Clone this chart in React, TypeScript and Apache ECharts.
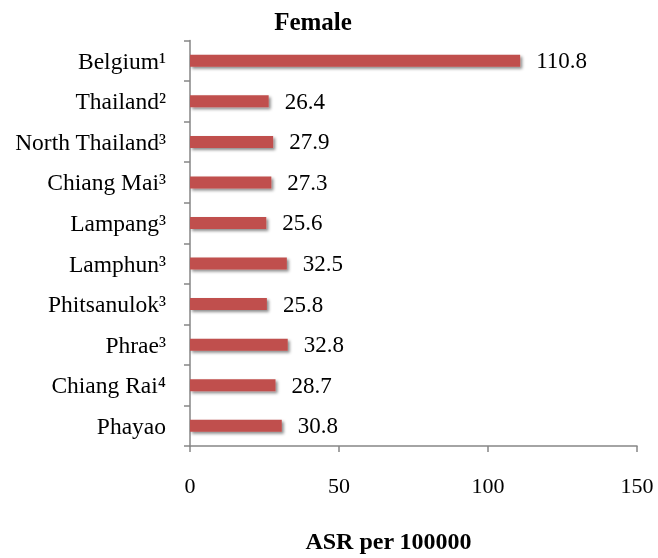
import React, { useEffect, useRef } from "react";
import * as echarts from "echarts";

const categories = [
  "Belgium¹",
  "Thailand²",
  "North Thailand³",
  "Chiang Mai³",
  "Lampang³",
  "Lamphun³",
  "Phitsanulok³",
  "Phrae³",
  "Chiang Rai⁴",
  "Phayao",
];
const values = [110.8, 26.4, 27.9, 27.3, 25.6, 32.5, 25.8, 32.8, 28.7, 30.8];
const xTicks = { min: 0, max: 150, interval: 50 };

const FONT = '"Liberation Serif", "Times New Roman", serif';

export default function App() {
  const ref = useRef<HTMLDivElement>(null);
  useEffect(() => {
    const chart = echarts.init(ref.current!, undefined, { renderer: "svg" });
    chart.setOption({
      animation: false,
      title: {
        text: "Female",
        left: 308,
        top: 4,
        textAlign: "center",
        textStyle: { fontFamily: FONT, fontWeight: "bold", fontSize: 25, color: "#000" },
      },
      grid: { left: 190, right: 21, top: 40.5, bottom: 112, outerBoundsMode: "none" },
      xAxis: {
        type: "value",
        min: xTicks.min,
        max: xTicks.max,
        interval: xTicks.interval,
        name: "ASR per 100000",
        nameLocation: "middle",
        nameGap: 83,
        nameTextStyle: {
          fontFamily: FONT,
          fontWeight: "bold",
          fontSize: 24,
          color: "#000",
          padding: [0, 50, 0, 0],
        },
        axisLine: { show: true, lineStyle: { color: "#868686", width: 1.5 } },
        axisTick: { show: true, length: 6, lineStyle: { color: "#868686", width: 1.5 } },
        axisLabel: { fontFamily: FONT, fontSize: 22, color: "#000", margin: 28 },
        splitLine: { show: false },
      },
      yAxis: {
        type: "category",
        inverse: true,
        data: categories,
        axisLine: { show: true, lineStyle: { color: "#868686", width: 1.5 } },
        axisTick: { show: true, length: 6, lineStyle: { color: "#868686", width: 1.5 } },
        axisLabel: { fontFamily: FONT, fontSize: 23.5, color: "#000", margin: 24 },
      },
      series: [
        {
          type: "bar",
          data: values,
          barWidth: 12,
          itemStyle: {
            color: "#C0504D",
            shadowColor: "rgba(0,0,0,0.45)",
            shadowBlur: 3,
            shadowOffsetX: 2,
            shadowOffsetY: 2,
          },
          label: {
            show: true,
            position: "right",
            distance: 16,
            fontFamily: FONT,
            fontSize: 23,
            color: "#000",
          },
        },
      ],
    });
    return () => chart.dispose();
  }, []);
  return (
    <div
      ref={ref}
      style={{ position: "fixed", left: 0, top: 0, width: 658, height: 558 }}
    />
  );
}
